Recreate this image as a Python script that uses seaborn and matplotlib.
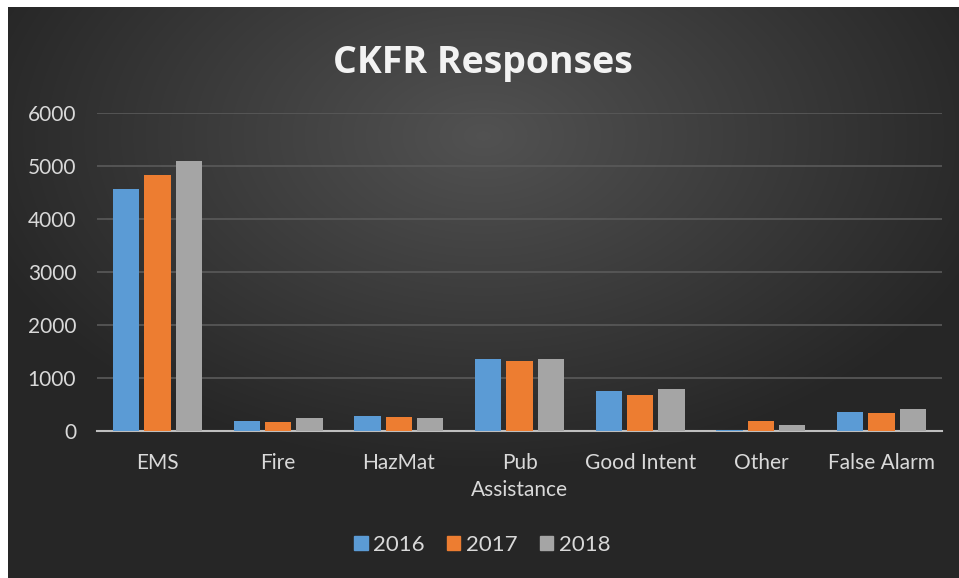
import numpy as np
import pandas as pd
import seaborn as sns
import matplotlib.pyplot as plt

categories = ['EMS', 'Fire', 'HazMat', 'Pub\nAssistance', 'Good Intent',
              'Other', 'False Alarm']
years = ['2016', '2017', '2018']
values_2016 = [4560, 180, 280, 1345, 745, 15, 350]
values_2017 = [4820, 160, 262, 1320, 670, 187, 330]
values_2018 = [5085, 235, 238, 1345, 787, 112, 405]
year_colors = ['#5B9BD5', '#ED7D31', '#A5A5A5']


def main():
    sns.set_style('white')
    plt.rcParams['font.family'] = ['Lato', 'DejaVu Sans']

    df = pd.DataFrame({
        'category': categories * 3,
        'year': [y for y in years for _ in categories],
        'count': values_2016 + values_2017 + values_2018,
    })

    fig = plt.figure(figsize=(9.59, 5.78), dpi=100)
    fig.patch.set_facecolor('white')

    # radial gradient background panel
    bg = fig.add_axes([8 / 959, 0, 951 / 959, 571 / 578])
    yy, xx = np.mgrid[-1:1:300j, -1:1:500j]
    r = np.sqrt((xx * 0.95) ** 2 + ((yy + 0.55) * 0.9) ** 2)
    shade = np.clip(0.32 - 0.16 * r, 0.15, 0.32)
    bg.imshow(np.dstack([shade] * 3), aspect='auto', extent=[0, 1, 0, 1],
              interpolation='bilinear')
    bg.set_axis_off()

    ax = fig.add_axes([97 / 959, 0.2548, 845 / 959, 0.5502])
    ax.patch.set_alpha(0)
    sns.barplot(data=df, x='category', y='count', hue='year',
                palette=year_colors, width=0.78, gap=0.16, ax=ax,
                legend=False, saturation=1, zorder=3, linewidth=0)

    ax.set_ylim(0, 6000)
    ax.set_yticks(range(0, 6001, 1000))
    ax.grid(axis='y', color='#5A5A5A', linewidth=1.2, zorder=0)
    ax.set_xlabel('')
    ax.set_ylabel('')
    for side in ['top', 'right', 'left']:
        ax.spines[side].set_visible(False)
    ax.spines['bottom'].set_color('#BFBFBF')
    ax.spines['bottom'].set_linewidth(1.5)
    ax.tick_params(axis='both', length=0, colors='#D9D9D9', labelsize=15)
    ax.tick_params(axis='y', pad=15)
    ax.tick_params(axis='x', pad=16)
    for lbl in ax.get_xticklabels():
        lbl.set_linespacing(1.45)

    fig.text(0.503, 0.891, 'CKFR Responses', ha='center', va='center',
             color='#F2F2F2', fontsize=27, fontweight='bold',
             family=['Open Sans', 'DejaVu Sans'])

    handles = [plt.Rectangle((0, 0), 1, 1, color=c) for c in year_colors]
    fig.legend(handles, years, loc='center', bbox_to_anchor=(0.503, 0.057),
               ncol=3, frameon=False, fontsize=16, handlelength=0.6,
               handleheight=0.6, handletextpad=0.25, columnspacing=1.0,
               labelcolor='#D9D9D9')

    fig.savefig('out.png', dpi=100)


if __name__ == '__main__':
    main()
